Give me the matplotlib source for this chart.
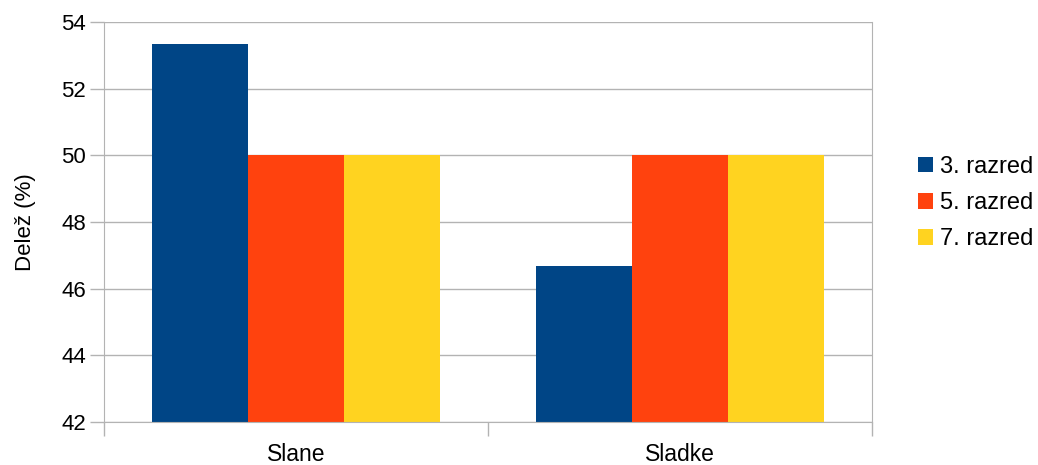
import matplotlib
matplotlib.use("Agg")
import matplotlib.pyplot as plt
import numpy as np

categories = ["Slane", "Sladke"]
series_names = ["3. razred", "5. razred", "7. razred"]
values = {
    "3. razred": [53.33, 46.67],
    "5. razred": [50.0, 50.0],
    "7. razred": [50.0, 50.0],
}
colors = ["#004586", "#ff420e", "#ffd320"]
y_ticks = [42, 44, 46, 48, 50, 52, 54]

plt.rcParams["font.family"] = ["Liberation Sans", "DejaVu Sans"]

fig = plt.figure(figsize=(10.38, 4.65), dpi=100)
ax = fig.add_axes([0.1002, 0.0925, 0.7398, 0.8602])

x = np.arange(len(categories))
width = 0.25
for i, (name, col) in enumerate(zip(series_names, colors)):
    ax.bar(x + (i - 1) * width, values[name], width, color=col, label=name,
           zorder=2)

ax.set_ylim(42, 54)
ax.set_yticks(y_ticks)
ax.set_xlim(-0.5, len(categories) - 0.5)

# boundary tick marks between categories, labels at the centres
ax.set_xticks(np.arange(-0.5, len(categories), 1.0))
ax.set_xticklabels([])
ax.set_xticks(x, minor=True)
ax.set_xticklabels(categories, minor=True)
ax.tick_params(axis="x", which="minor", length=0, pad=15, labelsize=16.5)
ax.tick_params(axis="x", which="major", length=10, color="#b3b3b3", width=1)
ax.tick_params(axis="y", length=10, color="#b3b3b3", width=1, labelsize=16,
               pad=3)

ax.yaxis.grid(True, color="#b3b3b3", linewidth=1, zorder=0)
ax.set_axisbelow(True)
for side in ["left", "right", "bottom"]:
    ax.spines[side].set_color("#b3b3b3")
ax.spines["top"].set_visible(False)

ax.set_ylabel("Delež (%)", fontsize=16, labelpad=18)

ax.legend(loc="center left", bbox_to_anchor=(918 / 1038, 1 - 203 / 465),
          bbox_transform=fig.transFigure, borderaxespad=0, borderpad=0,
          frameon=False, fontsize=17, handlelength=0.64, handleheight=0.64,
          handletextpad=0.3, labelspacing=0.6)

fig.savefig("out.png", dpi=100)
